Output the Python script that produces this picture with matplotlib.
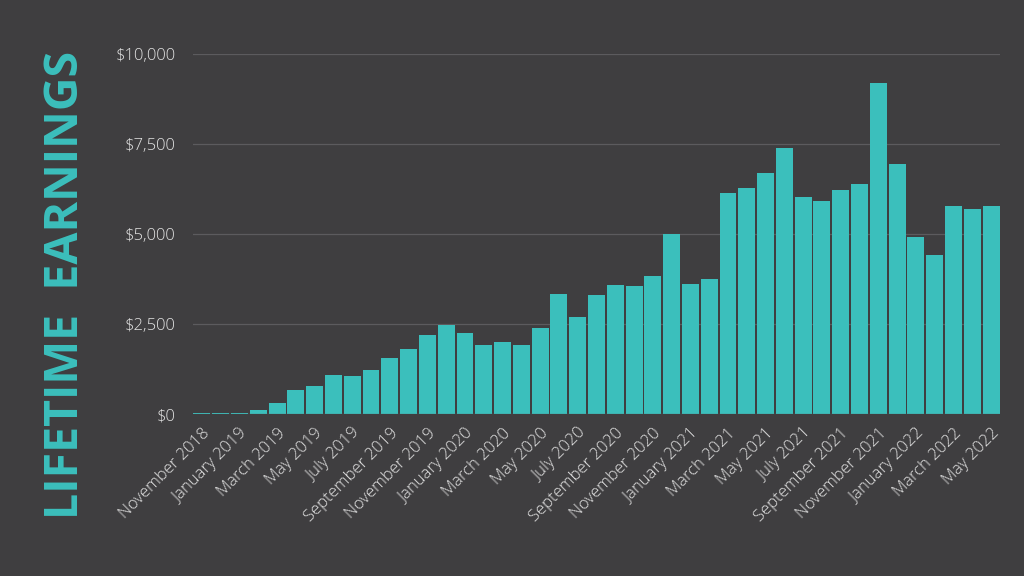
"""Monthly earnings bar chart on a dark background."""

import matplotlib.pyplot as plt
from matplotlib.ticker import FuncFormatter, MultipleLocator

months = [
    "November 2018", "December 2018",
    "January 2019", "February 2019", "March 2019", "April 2019", "May 2019", "June 2019",
    "July 2019", "August 2019", "September 2019", "October 2019", "November 2019", "December 2019",
    "January 2020", "February 2020", "March 2020", "April 2020", "May 2020", "June 2020",
    "July 2020", "August 2020", "September 2020", "October 2020", "November 2020", "December 2020",
    "January 2021", "February 2021", "March 2021", "April 2021", "May 2021", "June 2021",
    "July 2021", "August 2021", "September 2021", "October 2021", "November 2021", "December 2021",
    "January 2022", "February 2022", "March 2022", "April 2022", "May 2022",
]

earnings = [
    30, 30, 40, 110, 300, 670, 790, 1080,
    1050, 1220, 1560, 1800, 2190, 2490,
    2260, 1920, 2000, 1930, 2380, 3350,
    2710, 3300, 3580, 3550, 3830, 5010,
    3620, 3750, 6130, 6280, 6690, 7380,
    6020, 5930, 6230, 6390, 9210, 6940,
    4920, 4410, 5790, 5710, 5790,
]

bg = "#3f3e40"
teal = "#3bbfbc"
text_color = "#e2e2e2"

fig = plt.figure(figsize=(10.24, 5.76), dpi=100, facecolor=bg)
ax = fig.add_axes([0.188, 0.281, 0.789, 0.625], facecolor=bg)

x = list(range(len(months)))
ax.bar(x, earnings, width=0.9, color=teal, zorder=3)

ax.set_xlim(-0.5, len(months) - 0.5)
ax.set_ylim(0, 10000)
ax.yaxis.set_major_locator(MultipleLocator(2500))
ax.yaxis.set_major_formatter(FuncFormatter(lambda v, _: f"${v:,.0f}"))
ax.grid(axis="y", color="#5c5b5e", linewidth=0.9, zorder=0)
ax.axhline(0, color="#5c5b5e", linewidth=0.9, zorder=4)

ax.set_xticks(x[::2])
ax.set_xticklabels(months[::2], rotation=45, ha="right", rotation_mode="anchor")

for side in ax.spines.values():
    side.set_visible(False)
ax.tick_params(axis="both", length=0, colors=text_color, labelsize=12)
ax.tick_params(axis="y", pad=12)
ax.tick_params(axis="x", pad=8)
for label in ax.get_xticklabels() + ax.get_yticklabels():
    label.set_fontfamily("Open Sans")
    label.set_fontweight("light")

fig.text(0.064, 0.505, "LIFETIME  EARNINGS", rotation=90, ha="center", va="center",
         color=teal, fontsize=33.5, fontweight="bold", fontfamily="Open Sans")

fig.savefig("out.png", dpi=100, facecolor=bg)
